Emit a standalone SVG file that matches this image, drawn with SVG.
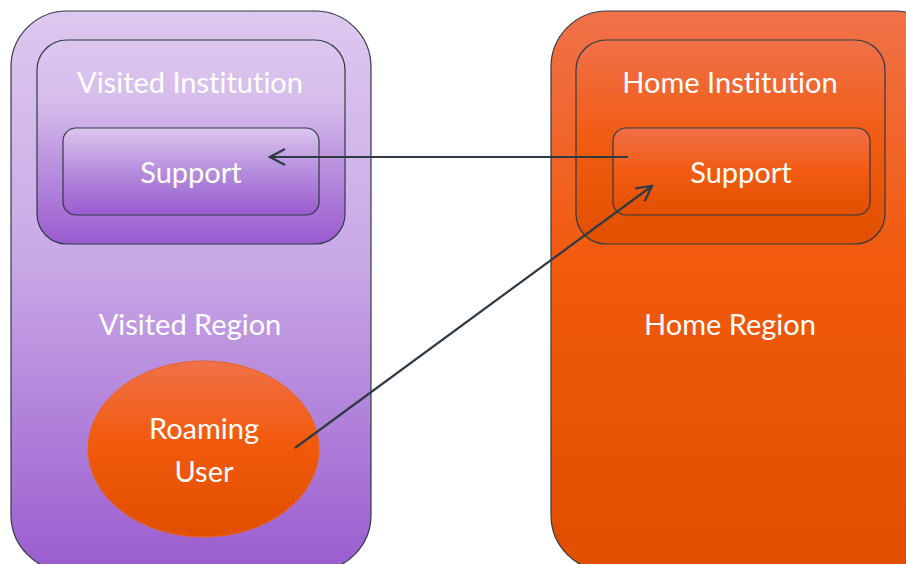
<svg xmlns="http://www.w3.org/2000/svg" width="906" height="564" viewBox="0 0 906 564">
<defs>
<linearGradient id="purple" x1="0" y1="0" x2="0" y2="1">
<stop offset="0" stop-color="#ddc8ef"/>
<stop offset="0.45" stop-color="#c9a8e6"/>
<stop offset="1" stop-color="#9a5ccf"/>
</linearGradient>
<linearGradient id="purpleIn" x1="0" y1="0" x2="0" y2="1">
<stop offset="0" stop-color="#dcc6ee"/>
<stop offset="0.3" stop-color="#d6bdeb"/>
<stop offset="1" stop-color="#995bcf"/>
</linearGradient>
<linearGradient id="purpleSup" x1="0" y1="0" x2="0" y2="1">
<stop offset="0" stop-color="#dcc5ee"/>
<stop offset="0.5" stop-color="#b58ddd"/>
<stop offset="1" stop-color="#9a5ccf"/>
</linearGradient>
<linearGradient id="orange" x1="0" y1="0" x2="0" y2="1">
<stop offset="0" stop-color="#f07149"/>
<stop offset="0.45" stop-color="#f25a0d"/>
<stop offset="1" stop-color="#e04e00"/>
</linearGradient>
<linearGradient id="orangeIn" x1="0" y1="0" x2="0" y2="1">
<stop offset="0" stop-color="#f07049"/>
<stop offset="0.5" stop-color="#f25b10"/>
<stop offset="1" stop-color="#e24f00"/>
</linearGradient>
<marker id="arrEnd" viewBox="0 0 20 20" refX="18" refY="10" markerWidth="20" markerHeight="20" markerUnits="userSpaceOnUse" orient="auto">
<path d="M3,2 L18,10 L3,18" fill="none" stroke="#2e3a44" stroke-width="2.2"/>
</marker>
</defs>
<style>
.box{stroke:#2f3b45;stroke-width:1.2}
.lbl{font-family:Lato,"Open Sans","Liberation Sans",sans-serif;fill:#ffffff;text-anchor:middle;font-size:29px;font-variant-ligatures:none}
.conn{fill:none;stroke:#2e3a44;stroke-width:2.2}
</style>
<g id="visited-region">
<rect class="box" x="11" y="11" width="360" height="560" rx="56" fill="url(#purple)"/>
<text class="lbl" x="190" y="335">Visited Region</text>
</g>
<g id="visited-institution">
<rect class="box" x="37" y="40" width="308" height="204" rx="30" fill="url(#purpleIn)"/>
<text class="lbl" x="190" y="93" fill="#f6effc">Visited Institution</text>
</g>
<g id="visited-support">
<rect class="box" x="63" y="128" width="256" height="87" rx="13" fill="url(#purpleSup)"/>
<text class="lbl" x="191" y="183">Support</text>
</g>
<g id="home-region">
<rect class="box" x="551" y="11" width="400" height="560" rx="56" fill="url(#orange)"/>
<text class="lbl" x="730" y="335">Home Region</text>
</g>
<g id="home-institution">
<rect class="box" x="576" y="40" width="309" height="204" rx="30" fill="url(#orangeIn)"/>
<text class="lbl" x="730" y="93">Home Institution</text>
</g>
<g id="home-support">
<rect class="box" x="613" y="128" width="257" height="87" rx="13" fill="url(#orangeIn)"/>
<text class="lbl" x="741" y="183">Support</text>
</g>
<g id="roaming-user">
<ellipse cx="203.5" cy="449" rx="115.5" ry="88" fill="url(#orange)" stroke="#e8621c" stroke-width="1"/>
<text class="lbl" x="204" y="439">Roaming</text>
<text class="lbl" x="204" y="482">User</text>
</g>
<g id="connectors">
<line class="conn" x1="628" y1="157" x2="270" y2="157" marker-end="url(#arrEnd)"/>
<line class="conn" x1="295" y1="448" x2="652" y2="186" marker-end="url(#arrEnd)"/>
</g>
</svg>
